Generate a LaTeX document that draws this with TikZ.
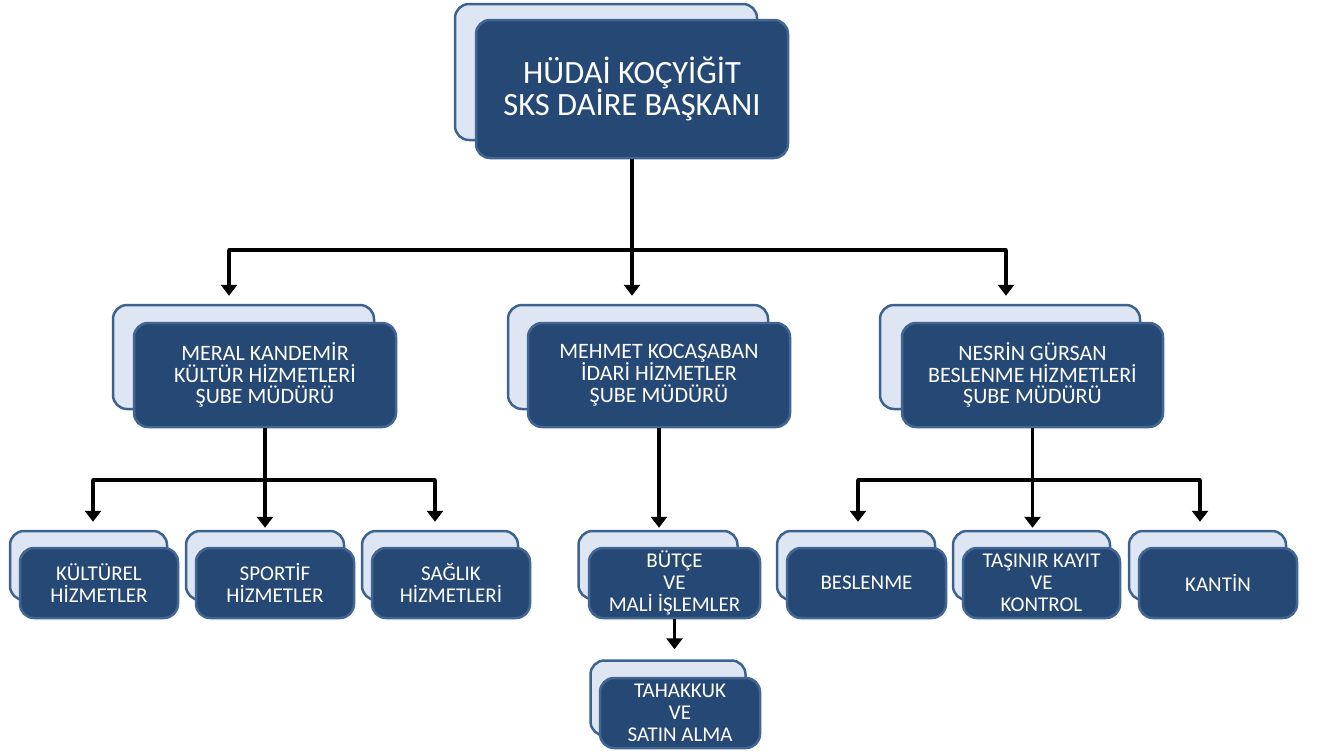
\documentclass[tikz,border=0pt]{standalone}
\usepackage{fontspec}
\setmainfont{Carlito}
\usepackage{tikz}
\usetikzlibrary{arrows.meta}

\definecolor{darkbox}{RGB}{38,72,116}
\definecolor{darkrim}{RGB}{66,102,148}
\definecolor{paleback}{RGB}{221,230,242}
\definecolor{palerim}{RGB}{62,98,144}

\tikzset{
  backbox/.style={draw=palerim, fill=paleback, line width=2.5pt, rounded corners=14pt, inner sep=0pt},
  frontbox/.style={draw=darkrim, fill=darkbox, line width=2.5pt, rounded corners=14pt, inner sep=0pt,
    text=white, align=center},
  bigtext/.style={font=\fontsize{32.5}{32}\selectfont},
  midtext/.style={font=\fontsize{22}{21.5}\selectfont},
  smalltext/.style={font=\fontsize{21}{22}\selectfont},
  link/.style={line width=3.4pt, line cap=round},
  arr/.style={line width=3.4pt, -{Triangle[length=11pt,width=16pt]}},
}

\begin{document}
\begin{tikzpicture}[x=1pt, y=-1pt]
\useasboundingbox (0,0) rectangle (1319,753);

% Head
\node [backbox, minimum width=302, minimum height=136] (headB) at (606,72) {};
\node [frontbox, bigtext, minimum width=312, minimum height=138] (head) at (632,89) {HÜDAİ KOÇYİĞİT\\SKS DAİRE BAŞKANI};

% Branch managers
\node [backbox, minimum width=261, minimum height=104] (kandemirB) at (243.5,357) {};
\node [frontbox, midtext, minimum width=262, minimum height=104] (kandemir) at (265,375) {MERAL KANDEMİR\\KÜLTÜR HİZMETLERİ\\ŞUBE MÜDÜRÜ};

\node [backbox, minimum width=260, minimum height=104] (kocasabanB) at (638,357) {};
\node [frontbox, midtext, minimum width=262, minimum height=104] (kocasaban) at (659,375) {MEHMET KOCAŞABAN\\İDARİ HİZMETLER\\ŞUBE MÜDÜRÜ};

\node [backbox, minimum width=260, minimum height=104] (gursanB) at (1010,357) {};
\node [frontbox, midtext, minimum width=261, minimum height=104] (gursan) at (1032.5,375) {NESRİN GÜRSAN\\BESLENME HİZMETLERİ\\ŞUBE MÜDÜRÜ};

% Units, left
\node [backbox, minimum width=157, minimum height=69] (kulturB) at (88.5,565.5) {};
\node [frontbox, smalltext, minimum width=158, minimum height=70] (kultur) at (99,583) {KÜLTÜREL\\HİZMETLER};

\node [backbox, minimum width=158, minimum height=69] (sporB) at (265,565.5) {};
\node [frontbox, smalltext, minimum width=158, minimum height=70] (spor) at (275,583) {SPORTİF\\HİZMETLER};

\node [backbox, minimum width=156, minimum height=69] (saglikB) at (440,565.5) {};
\node [frontbox, smalltext, minimum width=158, minimum height=70] (saglik) at (451,583) {SAĞLIK\\HİZMETLERİ};

% Units, middle
\node [backbox, minimum width=159, minimum height=68] (butceB) at (658,565) {};
\node [frontbox, smalltext, minimum width=171, minimum height=70] (butce) at (674.5,583) {BÜTÇE\\VE\\MALİ İŞLEMLER};

\node [backbox, minimum width=155, minimum height=75] (tahakkukB) at (668,698) {};
\node [frontbox, smalltext, minimum width=160, minimum height=70] (tahakkuk) at (680,713) {TAHAKKUK\\VE\\SATIN ALMA};

% Units, right
\node [backbox, minimum width=158, minimum height=69] (beslenmeB) at (856,565.5) {};
\node [frontbox, smalltext, minimum width=159, minimum height=70] (beslenme) at (866.5,583) {BESLENME};

\node [backbox, minimum width=157, minimum height=69] (tasinirB) at (1031.5,565.5) {};
\node [frontbox, smalltext, minimum width=157, minimum height=70] (tasinir) at (1041.5,583) {TAŞINIR KAYIT\\VE\\KONTROL};

\node [backbox, minimum width=157, minimum height=69] (kantinB) at (1207.5,565.5) {};
\node [frontbox, smalltext, minimum width=158, minimum height=70] (kantin) at (1218,583) {KANTİN};

% Head to managers
\coordinate (busL) at (229,250);
\coordinate (busR) at (1006,250);
\draw [link] (busL) -- (busR);
\draw [arr, shorten >=8pt] (head.south) -- (head.south |- kocasabanB.north);
\draw [arr, shorten >=8pt] (busL) -- (busL |- kandemirB.north);
\draw [arr, shorten >=8pt] (busR) -- (busR |- gursanB.north);

% Kültür to units
\coordinate (kbusL) at (93,480);
\coordinate (kbusR) at (435,480);
\draw [link] (kbusL) -- (kbusR);
\draw [arr, shorten >=2pt] (kandemir.south) -- (kandemir.south |- sporB.north);
\draw [arr, shorten >=8pt] (kbusL) -- (kbusL |- kulturB.north);
\draw [arr, shorten >=8pt] (kbusR) -- (kbusR |- saglikB.north);

% İdari to units
\draw [arr, shorten >=2pt] (kocasaban.south) -- (kocasaban.south |- butceB.north);
\draw [arr, shorten >=10pt] (butce.south) -- (butce.south |- tahakkukB.north);

% Beslenme to units
\coordinate (bbusL) at (858,480);
\coordinate (bbusR) at (1200,480);
\draw [link] (bbusL) -- (bbusR);
\draw [arr, shorten >=2pt] (gursan.south) -- (gursan.south |- tasinirB.north);
\draw [arr, shorten >=8pt] (bbusL) -- (bbusL |- beslenmeB.north);
\draw [arr, shorten >=8pt] (bbusR) -- (bbusR |- kantinB.north);

\end{tikzpicture}
\end{document}
